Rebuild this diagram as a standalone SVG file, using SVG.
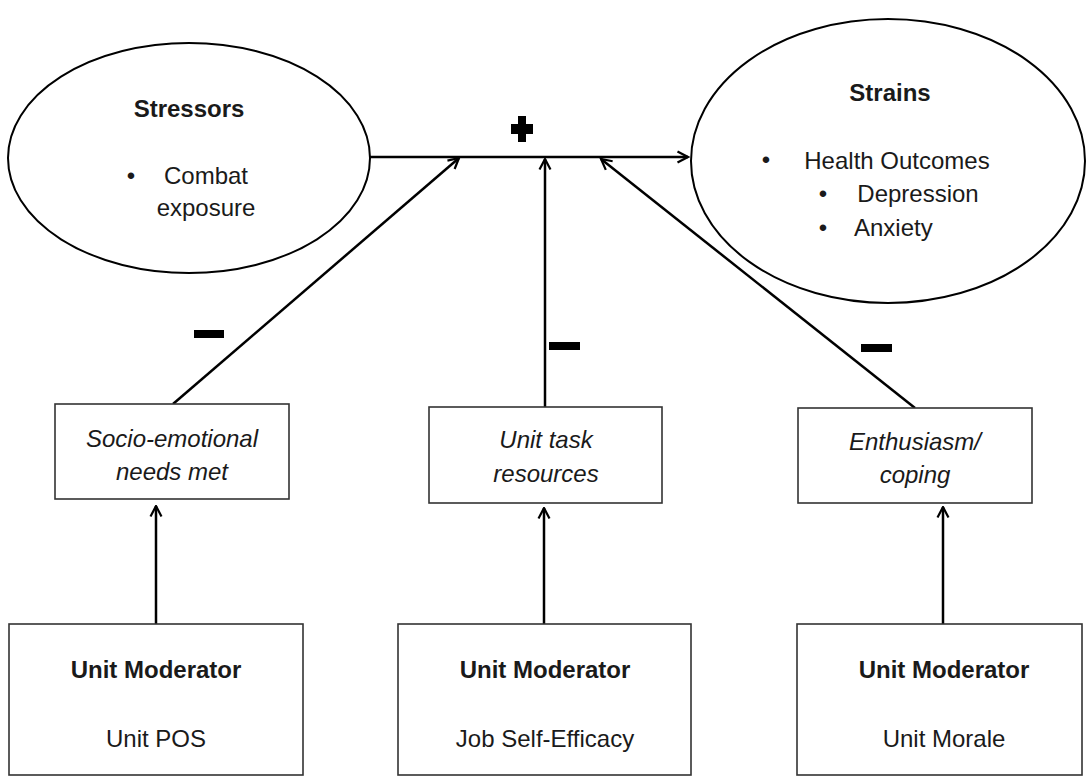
<svg xmlns="http://www.w3.org/2000/svg" width="1086" height="776" viewBox="0 0 1086 776">
<defs>
<style>
.ell{fill:#fff;stroke:#000;stroke-width:2}
.box{fill:#fff;stroke:#333;stroke-width:1.6}
.con{stroke:#000;stroke-width:2.5;fill:none}
.t{font-family:"Liberation Sans",Arial,sans-serif;font-size:24px;fill:#1a1a1a;text-anchor:middle}
.b{font-weight:bold}
.i{font-style:italic}
.sign{fill:#000}
</style>
<marker id="arr" markerUnits="userSpaceOnUse" viewBox="0 0 14 14" refX="12.5" refY="7" markerWidth="14" markerHeight="14" orient="auto">
<path d="M2,1.5 L12.5,7 L2,12.5" fill="none" stroke="#000" stroke-width="2.2"/>
</marker>
</defs>
<rect width="1086" height="776" fill="#fff"/>

<g id="connectors">
<line class="con" x1="370" y1="157" x2="688" y2="157" marker-end="url(#arr)"/>
<line class="con" x1="173" y1="404" x2="459" y2="158" marker-end="url(#arr)"/>
<line class="con" x1="545" y1="407" x2="545" y2="159" marker-end="url(#arr)"/>
<line class="con" x1="915" y1="408" x2="601" y2="159" marker-end="url(#arr)"/>
<line class="con" x1="156" y1="624" x2="156" y2="506" marker-end="url(#arr)"/>
<line class="con" x1="544" y1="624" x2="544" y2="508" marker-end="url(#arr)"/>
<line class="con" x1="943" y1="624" x2="943" y2="507" marker-end="url(#arr)"/>
</g>

<g id="signs">
<path class="sign" d="M518,116 h8 v8 h7 v10 h-7 v8 h-8 v-8 h-7 v-10 h7 z"/>
<rect class="sign" x="194" y="330" width="30" height="8"/>
<rect class="sign" x="549" y="342" width="31" height="8"/>
<rect class="sign" x="861" y="344" width="31" height="8"/>
</g>

<g id="stressors">
<ellipse class="ell" cx="189" cy="158" rx="181" ry="115"/>
<text class="t b" x="189" y="117">Stressors</text>
<text class="t" x="131" y="184" style="text-anchor:middle">•</text>
<text class="t" x="206" y="184" font-size="25">Combat</text>
<text class="t" x="206" y="216" font-size="25">exposure</text>
</g>

<g id="strains">
<ellipse class="ell" cx="888" cy="161" rx="197" ry="142"/>
<text class="t b" x="890" y="101">Strains</text>
<text class="t" x="766" y="168">•</text>
<text class="t" x="897" y="169" font-size="25">Health Outcomes</text>
<text class="t" x="823" y="202">•</text>
<text class="t" x="918" y="202" font-size="25">Depression</text>
<text class="t" x="823" y="236">•</text>
<text class="t" x="854" y="236" font-size="25" style="text-anchor:start">Anxiety</text>
</g>

<g id="socio">
<rect class="box" x="55" y="404" width="234" height="95"/>
<text class="t i" x="172" y="447" font-size="25">Socio-emotional</text>
<text class="t i" x="172" y="480" font-size="25">needs met</text>
</g>

<g id="task">
<rect class="box" x="429" y="407" width="233" height="96"/>
<text class="t i" x="546" y="448" font-size="25">Unit task</text>
<text class="t i" x="546" y="482" font-size="25">resources</text>
</g>

<g id="enthusiasm">
<rect class="box" x="798" y="408" width="234" height="95"/>
<text class="t i" x="915" y="450" font-size="25">Enthusiasm/</text>
<text class="t i" x="915" y="483" font-size="25">coping</text>
</g>

<g id="mod-pos">
<rect class="box" x="9" y="624" width="294" height="151"/>
<text class="t b" x="156" y="678">Unit Moderator</text>
<text class="t" x="156" y="747" font-size="25">Unit POS</text>
</g>

<g id="mod-efficacy">
<rect class="box" x="398" y="624" width="293" height="151"/>
<text class="t b" x="545" y="678">Unit Moderator</text>
<text class="t" x="545" y="747" font-size="25">Job Self-Efficacy</text>
</g>

<g id="mod-morale">
<rect class="box" x="797" y="624" width="285" height="151"/>
<text class="t b" x="944" y="678">Unit Moderator</text>
<text class="t" x="944" y="747" font-size="25">Unit Morale</text>
</g>
</svg>
